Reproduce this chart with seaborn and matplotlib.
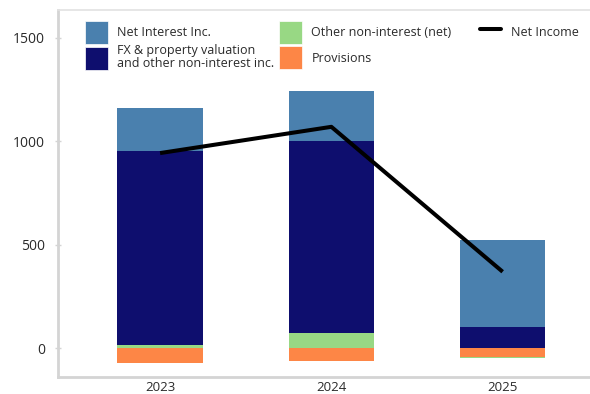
import numpy as np
import pandas as pd
import matplotlib
matplotlib.use("Agg")
import matplotlib.pyplot as plt
import seaborn as sns
from matplotlib.patches import Patch
from matplotlib.lines import Line2D

years = ["2023", "2024", "2025"]
net_interest = [210, 242, 423]
fx_property = [938, 926, 100]
other_nonint = [15, 75, -3]
provisions = [-70, -61, -45]
net_income = [943, 1070, 369]

labels = ["Net Interest Inc.", "FX & property valuation\nand other non-interest inc.",
          "Other non-interest (net)", "Provisions", "Net Income"]
c_nii = "#4a80ae"
c_fx = "#0e0e6e"
c_other = "#98d884"
c_prov = "#fd8646"
txt = "#2a2a2a"

sns.set_theme(style="white")
plt.rcParams["font.family"] = ["Open Sans", "DejaVu Sans"]

fig = plt.figure(figsize=(5.9, 3.94), dpi=100)
ax = fig.add_axes([58 / 590, 17 / 394, 532 / 590, 367 / 394])

oth = np.array(other_nonint, dtype=float)
fx = np.array(fx_property, dtype=float)
prov = np.array(provisions, dtype=float)
pos_oth = np.where(oth > 0, oth, 0)

df = pd.DataFrame({"year": years})
kw = dict(x="year", width=0.5, ax=ax, linewidth=0, saturation=1)
sns.barplot(data=df.assign(v=oth), y="v", color=c_other,
            bottom=np.where(oth < 0, prov, 0), **kw)
sns.barplot(data=df.assign(v=prov), y="v", color=c_prov, **kw)
sns.barplot(data=df.assign(v=fx), y="v", color=c_fx, bottom=pos_oth, **kw)
sns.barplot(data=df.assign(v=net_interest), y="v", color=c_nii,
            bottom=pos_oth + fx, **kw)

sns.lineplot(x=np.arange(len(years)), y=net_income, color="black",
             linewidth=2.9, ax=ax, solid_capstyle="butt")

ax.set_xlim(-0.596, 2.51)
ax.set_ylim(-140, 1635)
ax.set_yticks([0, 500, 1000, 1500])
ax.set_xlabel("")
ax.set_ylabel("")
ax.tick_params(axis="y", left=True, length=5, width=1, color="#d4d4d4",
               direction="inout", labelsize=10, labelcolor=txt, pad=7)
ax.tick_params(axis="x", bottom=False, labelsize=9.5, labelcolor=txt, pad=-3)
for side in ["left", "bottom"]:
    ax.spines[side].set_color("#d4d4d4")
    ax.spines[side].set_linewidth(2)
ax.spines["top"].set_color("#e2e2e2")
ax.spines["top"].set_linewidth(1.2)
ax.spines["right"].set_visible(False)

top_y = 1 - 11 / 367
common = dict(loc="upper left", frameon=False, fontsize=9, handleheight=2.44,
              borderpad=0, borderaxespad=0)

def patch(c):
    return Patch(facecolor=c, edgecolor="white", linewidth=0.5)

leg1 = ax.legend([patch(c_nii), patch(c_fx)], labels[0:2],
                 bbox_to_anchor=(27 / 532, top_y), handlelength=1.84,
                 handletextpad=0.75, labelspacing=0.02, **common)
for t in leg1.get_texts():
    t.set_color(txt)
    t.set_linespacing(0.95)
ax.add_artist(leg1)

leg2 = ax.legend([patch(c_other), patch(c_prov)], labels[2:4],
                 bbox_to_anchor=(221 / 532, top_y), handlelength=1.84,
                 handletextpad=0.75, labelspacing=0.2, **common)
for t in leg2.get_texts():
    t.set_color(txt)
ax.add_artist(leg2)

leg3 = ax.legend([Line2D([], [], color="black", linewidth=2.9)], labels[4:],
                 bbox_to_anchor=(422 / 532, top_y), handlelength=1.7,
                 handletextpad=0.8, **common)
for t in leg3.get_texts():
    t.set_color(txt)

fig.savefig("out.png", dpi=100)
